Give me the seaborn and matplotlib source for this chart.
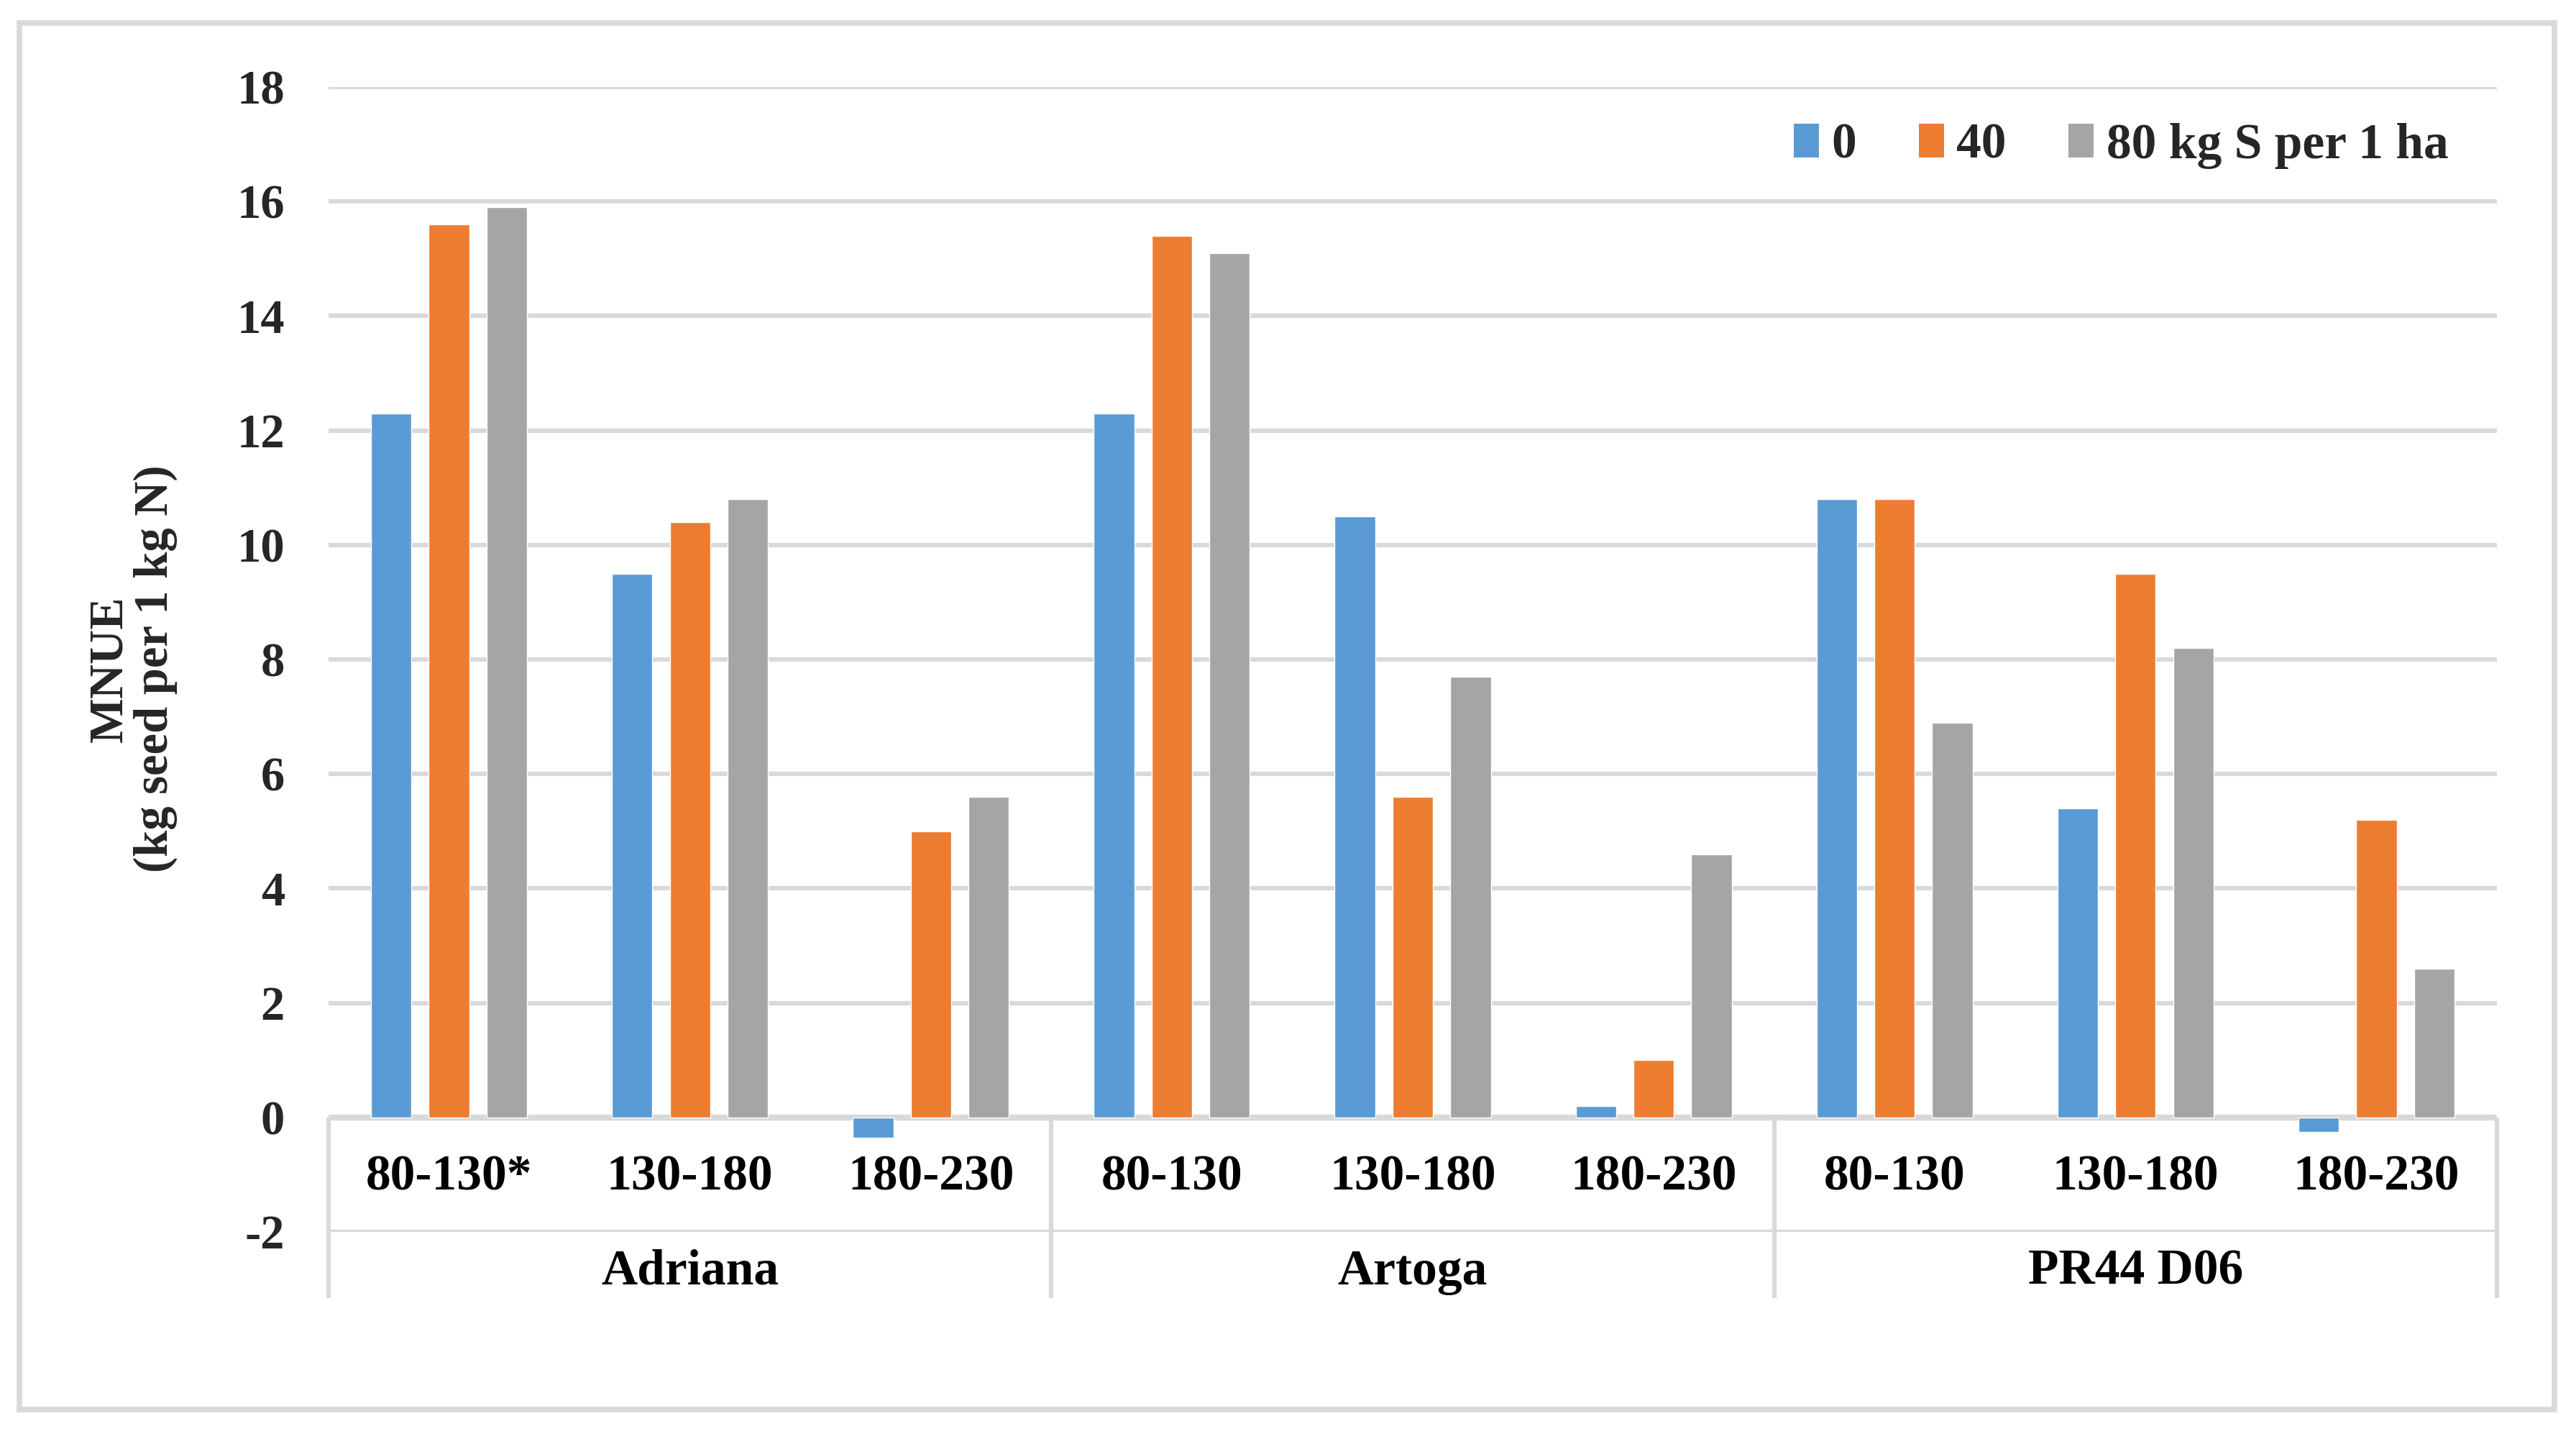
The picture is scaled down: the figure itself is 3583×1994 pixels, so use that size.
import numpy as np
import pandas as pd
import matplotlib
matplotlib.use("Agg")
import matplotlib.pyplot as plt
from matplotlib.patches import Patch, Rectangle
import seaborn as sns

# ---- data ----
groups = ["Adriana", "Artoga", "PR44 D06"]
ranges = [["80-130*", "130-180", "180-230"],
          ["80-130", "130-180", "180-230"],
          ["80-130", "130-180", "180-230"]]
s_levels = ["0", "40", "80 kg S per 1 ha"]
vals_0 = [12.3, 9.5, -0.35, 12.3, 10.5, 0.2, 10.8, 5.4, -0.25]
vals_40 = [15.6, 10.4, 5.0, 15.4, 5.6, 1.0, 10.8, 9.5, 5.2]
vals_80 = [15.9, 10.8, 5.6, 15.1, 7.7, 4.6, 6.9, 8.2, 2.6]
colors = ["#5B9BD5", "#ED7D31", "#A5A5A5"]
y_label = "MNUE\n(kg seed per 1 kg N)"
y_ticks = [-2, 0, 2, 4, 6, 8, 10, 12, 14, 16, 18]

cats = [f"{g}|{r}" for g, rr in zip(groups, ranges) for r in rr]
rows = []
for level, series in zip(s_levels, [vals_0, vals_40, vals_80]):
    for c, v in zip(cats, series):
        rows.append({"cat": c, "S": level, "value": v})
df = pd.DataFrame(rows)

# ---- figure ----
sns.set_theme(style="white")
plt.rcParams["font.family"] = ["Liberation Serif", "DejaVu Serif"]
plt.rcParams["font.weight"] = "bold"

W, H = 3583, 1994
fig = plt.figure(figsize=(W / 100, H / 100), dpi=100)
fig.patch.set_facecolor("white")

# outer frame
fig.patches.append(Rectangle((27 / W, 1 - 1960 / H), 3526 / W, 1928 / H,
                             transform=fig.transFigure, fill=False,
                             edgecolor="#D9D9D9", lw=5.5, zorder=0))

left, right = 457 / W, 3473 / W
bottom, top = 1 - 1713 / H, 1 - 121 / H
ax = fig.add_axes([left, bottom, right - left, top - bottom])

sns.barplot(data=df, x="cat", y="value", hue="S", order=cats,
            hue_order=s_levels, palette=colors, width=0.72, gap=0.3,
            errorbar=None, saturation=1, ax=ax, legend=False, zorder=3)

ax.set_xlim(-0.5, len(cats) - 0.5)
ax.set_ylim(-2, 18)
ax.set_yticks(y_ticks)
ax.set_yticklabels([str(t) for t in y_ticks], fontsize=48, fontweight="bold")
ax.tick_params(axis="y", length=0, pad=44)
ax.tick_params(axis="x", length=0, labelbottom=False)
ax.set_xlabel("")
ax.set_ylabel("")
for s in ax.spines.values():
    s.set_visible(False)
ax.yaxis.grid(True, color="#D9D9D9", lw=4.5)
ax.set_axisbelow(True)
ax.axhline(0, color="#D9D9D9", lw=6, zorder=2)

# category labels (sub level)
for i, c in enumerate(cats):
    ax.text(i, -1.05, c.split("|")[1], ha="center", va="center",
            fontsize=50, fontweight="bold", color="black")
# group labels and separators
for gi, g in enumerate(groups):
    ax.text(gi * 3 + 1, -2.7, g, ha="center", va="center", fontsize=50,
            fontweight="bold", color="black", clip_on=False)
for xs in [-0.5, 2.5, 5.5, 8.5]:
    ax.plot([xs, xs], [0, -3.15], color="#D9D9D9", lw=4.5, clip_on=False,
            solid_capstyle="butt", zorder=2)

# y label
fig.text(185 / W, 1 - 930 / H, y_label, rotation=90, ha="center", va="center",
         fontsize=48, fontweight="bold", multialignment="center",
         linespacing=1.05)

# legend
handles = [Patch(facecolor=c, edgecolor="none", label=l)
           for c, l in zip(colors, s_levels)]
fig.legend(handles=handles, loc="center right",
           bbox_to_anchor=(3440 / W, 1 - 203 / H), ncol=3, frameon=False,
           prop={"weight": "bold", "size": 50},
           handlelength=0.5, handleheight=0.65, handletextpad=0.25,
           columnspacing=1.25, borderpad=0)

fig.savefig("out.png", dpi=100, facecolor="white")
